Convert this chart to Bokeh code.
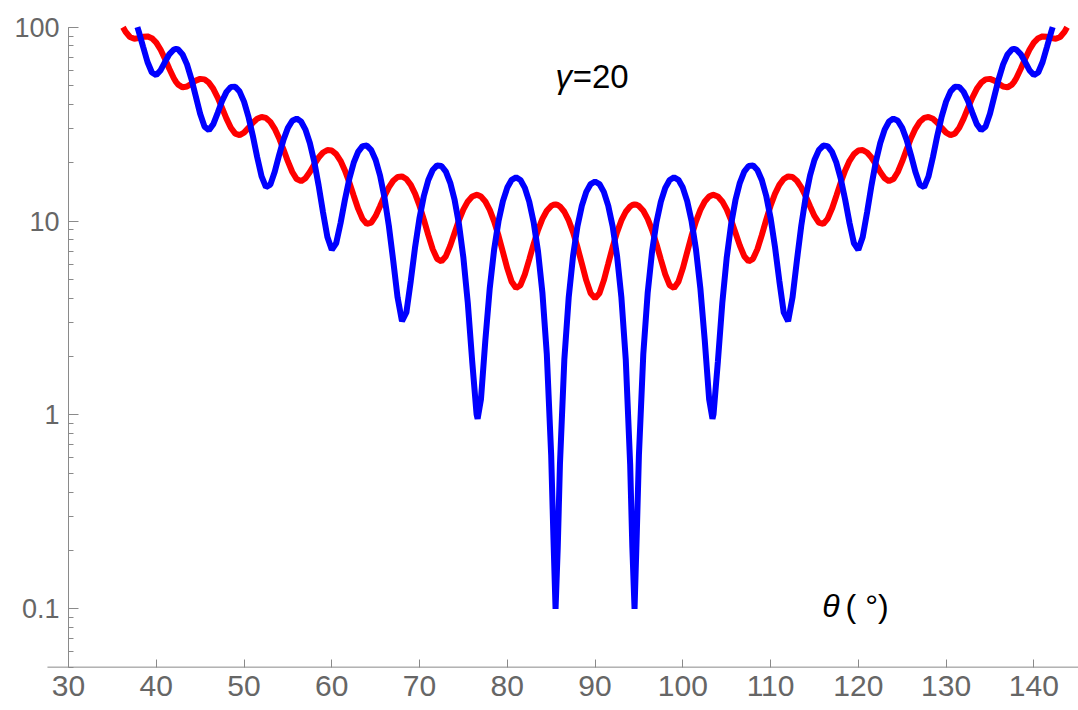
from bokeh.plotting import figure
from bokeh.models import Range1d, FixedTicker, CustomJSTickFormatter, Label
from bokeh.embed import file_html
from bokeh.resources import INLINE

# ---- data (theta in degrees) ----
# blue curve: enters the plot below 100 at theta = 37.85 and leaves at 142.15
theta_blue = [
    37.85, 38, 38.5, 39, 39.5,
    40, 40.5, 41, 41.5, 42, 42.25, 42.5, 43, 43.5, 44,
    44.5, 45, 45.5, 46, 46.5, 47, 47.5, 48, 48.5, 49,
    49.5, 50, 50.5, 51, 51.5, 52, 52.5, 53, 53.5, 54,
    54.5, 55, 55.5, 56, 56.5, 57, 57.5, 58, 58.5, 59,
    59.5, 60, 60.5, 61, 61.5, 62, 62.5, 63, 63.5, 64,
    64.5, 65, 65.5, 66, 66.5, 67, 67.5, 68, 68.5, 69,
    69.5, 70, 70.5, 71, 71.5, 72, 72.5, 73, 73.5, 74,
    74.5, 75, 75.5, 76, 76.5, 76.62, 77, 77.5, 78, 78.5,
    79, 79.5, 80, 80.5, 81, 81.5, 82, 82.5, 83, 83.5,
    84, 84.5, 85, 85.25, 85.5, 85.75, 86, 86.5, 87, 87.5,
    88, 88.5, 89, 89.5, 90,
    90.5, 91, 91.5, 92, 92.5, 93, 93.5, 94, 94.25, 94.5,
    94.75, 95, 95.5, 96, 96.5, 97, 97.5, 98, 98.5, 99,
    99.5, 100, 100.5, 101, 101.5, 102, 102.5, 103, 103.38, 103.5,
    104, 104.5, 105, 105.5, 106, 106.5, 107, 107.5, 108, 108.5,
    109, 109.5, 110, 110.5, 111, 111.5, 112, 112.5, 113, 113.5,
    114, 114.5, 115, 115.5, 116, 116.5, 117, 117.5, 118, 118.5,
    119, 119.5, 120, 120.5, 121, 121.5, 122, 122.5, 123, 123.5,
    124, 124.5, 125, 125.5, 126, 126.5, 127, 127.5, 128, 128.5,
    129, 129.5, 130, 130.5, 131, 131.5, 132, 132.5, 133, 133.5,
    134, 134.5, 135, 135.5, 136, 136.5, 137, 137.5, 137.75, 138,
    138.5, 139, 139.5, 140, 140.5, 141, 141.5, 142, 142.15,
]
blue_vals = [
    100.0, 95.172, 79.241, 66.155, 58.369,
    56.631, 59.994, 66.241, 72.653, 76.698, 77.287, 76.748, 72.365, 64.293, 54.163,
    44.007, 35.736, 30.704, 29.444, 31.616, 36.167, 41.610, 46.391, 49.220, 49.315,
    46.526, 41.309, 34.593, 27.553, 21.366, 16.984, 14.968, 15.412, 17.959, 21.897,
    26.307, 30.247, 32.912, 33.767, 32.622, 29.640, 25.289, 20.248, 15.278, 11.097,
    8.2674, 7.1130, 7.6830, 9.7580, 12.898, 16.522, 20.001, 22.757, 24.344, 24.509,
    23.220, 20.658, 17.185, 13.281, 9.4724, 6.2560, 4.0308, 3.0467, 3.3754, 4.9079,
    7.3760, 10.394, 13.514, 16.289, 18.331, 19.359, 19.234, 17.974, 15.742, 12.826,
    9.5952, 6.4517, 3.7792, 1.8942, 1.0084, 0.9562, 1.2040, 2.4268, 4.4961, 7.1297,
    9.9805, 12.681, 14.887, 16.323, 16.810, 16.289, 14.824, 12.596, 9.8731, 6.9851,
    4.2768, 2.0695, 0.62189, 0.23900, 0.1, 0.20727, 0.55717, 1.9308, 4.0484, 6.6496,
    9.4179, 12.018, 14.137, 15.520, 16.0,
    15.520, 14.137, 12.018, 9.4179, 6.6496, 4.0484, 1.9308, 0.55717, 0.20727, 0.1,
    0.23900, 0.62189, 2.0695, 4.2768, 6.9851, 9.8731, 12.596, 14.824, 16.289, 16.810,
    16.323, 14.887, 12.681, 9.9805, 7.1297, 4.4961, 2.4268, 1.2040, 0.9562, 1.0084,
    1.8942, 3.7792, 6.4517, 9.5952, 12.826, 15.742, 17.974, 19.234, 19.359, 18.331,
    16.289, 13.514, 10.394, 7.3760, 4.9079, 3.3754, 3.0467, 4.0308, 6.2560, 9.4724,
    13.281, 17.185, 20.658, 23.220, 24.509, 24.344, 22.757, 20.001, 16.522, 12.898,
    9.7580, 7.6830, 7.1130, 8.2674, 11.097, 15.278, 20.248, 25.289, 29.640, 32.622,
    33.767, 32.912, 30.247, 26.307, 21.897, 17.959, 15.412, 14.968, 16.984, 21.366,
    27.553, 34.593, 41.309, 46.526, 49.315, 49.220, 46.391, 41.610, 36.167, 31.616,
    29.444, 30.704, 35.736, 44.007, 54.163, 64.293, 72.365, 76.748, 77.287, 76.698,
    72.653, 66.241, 59.994, 56.631, 58.369, 66.155, 79.241, 95.172, 100.0,
]

# red curve: enters the plot below 100 at theta = 36.21 and leaves at 143.79
theta_red = [
    36.21, 36.5, 37, 37.5, 38, 38.5, 39, 39.5,
    40, 40.5, 41, 41.5, 42, 42.25, 42.5, 43, 43.5, 44,
    44.5, 45, 45.5, 46, 46.5, 47, 47.5, 48, 48.5, 49,
    49.5, 50, 50.5, 51, 51.5, 52, 52.5, 53, 53.5, 54,
    54.5, 55, 55.5, 56, 56.5, 57, 57.5, 58, 58.5, 59,
    59.5, 60, 60.5, 61, 61.5, 62, 62.5, 63, 63.5, 64,
    64.5, 65, 65.5, 66, 66.5, 67, 67.5, 68, 68.5, 69,
    69.5, 70, 70.5, 71, 71.5, 72, 72.5, 73, 73.5, 74,
    74.5, 75, 75.5, 76, 76.5, 76.62, 77, 77.5, 78, 78.5,
    79, 79.5, 80, 80.5, 81, 81.5, 82, 82.5, 83, 83.5,
    84, 84.5, 85, 85.25, 85.5, 85.75, 86, 86.5, 87, 87.5,
    88, 88.5, 89, 89.5, 90,
    90.5, 91, 91.5, 92, 92.5, 93, 93.5, 94, 94.25, 94.5,
    94.75, 95, 95.5, 96, 96.5, 97, 97.5, 98, 98.5, 99,
    99.5, 100, 100.5, 101, 101.5, 102, 102.5, 103, 103.38, 103.5,
    104, 104.5, 105, 105.5, 106, 106.5, 107, 107.5, 108, 108.5,
    109, 109.5, 110, 110.5, 111, 111.5, 112, 112.5, 113, 113.5,
    114, 114.5, 115, 115.5, 116, 116.5, 117, 117.5, 118, 118.5,
    119, 119.5, 120, 120.5, 121, 121.5, 122, 122.5, 123, 123.5,
    124, 124.5, 125, 125.5, 126, 126.5, 127, 127.5, 128, 128.5,
    129, 129.5, 130, 130.5, 131, 131.5, 132, 132.5, 133, 133.5,
    134, 134.5, 135, 135.5, 136, 136.5, 137, 137.5, 137.75, 138,
    138.5, 139, 139.5, 140, 140.5, 141, 141.5, 142, 142.5, 143,
    143.5, 143.79,
]
red_vals = [
    100.0, 94.763, 89.039, 87.134, 87.804, 89.244, 89.634, 87.768,
    83.228, 76.459, 68.545, 60.838, 54.570, 52.255, 50.541, 48.955, 49.424, 51.119,
    53.011, 54.132, 53.794, 51.722, 48.074, 43.370, 38.344, 33.765, 30.273, 28.251,
    27.768, 28.590, 30.249, 32.151, 33.703, 34.425, 34.033, 32.475, 29.927, 26.742,
    23.376, 20.296, 17.904, 16.463, 16.067, 16.631, 17.920, 19.592, 21.264, 22.577,
    23.247, 23.110, 22.141, 20.448, 18.249, 15.835, 13.517, 11.585, 10.260, 9.6673,
    9.8224, 10.633, 11.919, 13.439, 14.928, 16.138, 16.868, 16.993, 16.476, 15.372,
    13.813, 11.993, 10.135, 8.4611, 7.1658, 6.3887, 6.1988, 6.5875, 7.4722, 8.7091,
    10.113, 11.483, 12.626, 13.384, 13.650, 13.635, 13.385, 12.614, 11.427, 9.9664,
    8.4042, 6.9246, 5.6989, 4.8655, 4.5132, 4.6716, 5.3083, 6.3334, 7.6116, 8.9789,
    10.262, 11.301, 11.966, 12.130, 12.174, 12.096, 11.898, 11.170, 10.075, 8.7439,
    7.3350, 6.0155, 4.9423, 4.2428, 4.0,
    4.2428, 4.9423, 6.0155, 7.3350, 8.7439, 10.075, 11.170, 11.898, 12.096, 12.174,
    12.130, 11.966, 11.301, 10.262, 8.9789, 7.6116, 6.3334, 5.3083, 4.6716, 4.5132,
    4.8655, 5.6989, 6.9246, 8.4042, 9.9664, 11.427, 12.614, 13.385, 13.635, 13.650,
    13.384, 12.626, 11.483, 10.113, 8.7091, 7.4722, 6.5875, 6.1988, 6.3887, 7.1658,
    8.4611, 10.135, 11.993, 13.813, 15.372, 16.476, 16.993, 16.868, 16.138, 14.928,
    13.439, 11.919, 10.633, 9.8224, 9.6673, 10.260, 11.585, 13.517, 15.835, 18.249,
    20.448, 22.141, 23.110, 23.247, 22.577, 21.264, 19.592, 17.920, 16.631, 16.067,
    16.463, 17.904, 20.296, 23.376, 26.742, 29.927, 32.475, 34.033, 34.425, 33.703,
    32.151, 30.249, 28.590, 27.768, 28.251, 30.273, 33.765, 38.344, 43.370, 48.074,
    51.722, 53.794, 54.132, 53.011, 51.119, 49.424, 48.955, 50.541, 52.255, 54.570,
    60.838, 68.545, 76.459, 83.228, 87.768, 89.634, 89.244, 87.804, 87.134, 89.039,
    94.763, 100.0,
]

x_ticks = [30, 40, 50, 60, 70, 80, 90, 100, 110, 120, 130, 140]
y_major = [0.1, 1, 10, 100]
y_minor = [0.05, 0.06, 0.07, 0.08, 0.09,
           0.2, 0.3, 0.4, 0.5, 0.6, 0.7, 0.8, 0.9,
           2, 3, 4, 5, 6, 7, 8, 9,
           20, 30, 40, 50, 60, 70, 80, 90]

assert len(theta_blue) == len(blue_vals), (len(theta_blue), len(blue_vals))
assert len(theta_red) == len(red_vals), (len(theta_red), len(red_vals))

# ---- styling ----
FONT = "Liberation Sans"
AXIS_GRAY = "#8a8a8a"
LABEL_GRAY = "#666666"
X_ORIGIN = 30        # where the vertical axis crosses
Y_ORIGIN = 0.05      # where the horizontal axis crosses
X_AXIS_START = 27.6  # left end of the horizontal axis line
X_LO, X_HI = 22.25, 145.09
Y_LO, Y_HI = 0.02988, 137.3
Y_TOP = 100

p = figure(frame_width=1078, frame_height=710,
           x_range=Range1d(X_LO, X_HI), y_range=Range1d(Y_LO, Y_HI),
           y_axis_type="log", output_backend="svg", toolbar_location=None,
           min_border=0, min_border_left=0, min_border_right=0,
           min_border_top=0, min_border_bottom=0)
p.outline_line_color = None
p.background_fill_color = "white"
p.border_fill_color = "white"
p.xgrid.visible = False
p.ygrid.visible = False

# axis lines
p.segment(x0=[X_AXIS_START], y0=[Y_ORIGIN], x1=[X_HI], y1=[Y_ORIGIN],
          line_color=AXIS_GRAY, line_width=1)
p.segment(x0=[X_ORIGIN], y0=[Y_ORIGIN], x1=[X_ORIGIN], y1=[Y_TOP],
          line_color=AXIS_GRAY, line_width=1)

p.line(theta_red, red_vals, line_color="#ff0000", line_width=6)
p.line(theta_blue, blue_vals, line_color="#0000ff", line_width=6)

for ax in (p.xaxis[0], p.yaxis[0]):
    ax.axis_line_color = None
    ax.major_tick_line_color = AXIS_GRAY
    ax.minor_tick_line_color = AXIS_GRAY
    ax.major_label_text_color = LABEL_GRAY
    ax.major_label_text_font = FONT

xa = p.xaxis[0]
xa.fixed_location = Y_ORIGIN
xa.ticker = FixedTicker(ticks=x_ticks)
xa.major_tick_in = 8
xa.major_tick_out = 0
xa.minor_tick_in = 0
xa.minor_tick_out = 0
xa.major_label_text_font_size = "30px"
xa.major_label_standoff = 9

ya = p.yaxis[0]
ya.fixed_location = X_ORIGIN
ya.ticker = FixedTicker(ticks=y_major, minor_ticks=y_minor)
ya.formatter = CustomJSTickFormatter(code="return tick.toString();")
ya.major_tick_in = 10
ya.major_tick_out = 0
ya.minor_tick_in = 5
ya.minor_tick_out = 0
ya.major_label_text_font_size = "27px"
ya.major_label_standoff = 9

p.add_layout(Label(x=85.5, y=55.5, text="γ", text_font=FONT, text_font_style="italic",
                   text_font_size="33px", text_color="black",
                   text_align="left", text_baseline="alphabetic"))
p.add_layout(Label(x=87.45, y=55.5, text="=20", text_font=FONT,
                   text_font_size="33px", text_color="black",
                   text_align="left", text_baseline="alphabetic"))
p.add_layout(Label(x=115.89, y=0.1031, text="θ", text_font=FONT, text_font_style="italic",
                   text_font_size="32px", text_color="black",
                   text_align="left", text_baseline="alphabetic"))
p.add_layout(Label(x=118.55, y=0.1031, text="( °)", text_font=FONT,
                   text_font_size="32px", text_color="black",
                   text_align="left", text_baseline="alphabetic"))

open("out.html", "w").write(file_html(p, INLINE))
